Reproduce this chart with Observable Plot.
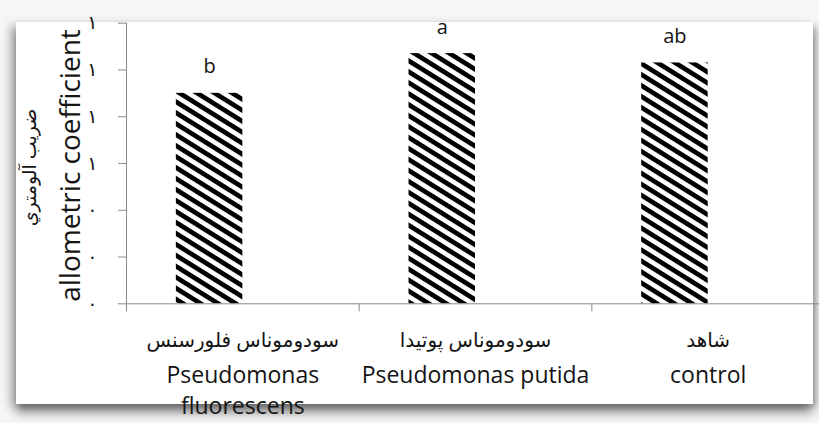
<!DOCTYPE html>
<html>
<head>
<meta charset="utf-8">
<script src="https://cdn.jsdelivr.net/npm/d3@7"></script>
<script src="https://cdn.jsdelivr.net/npm/@observablehq/plot@0.6"></script>
<style>
  html, body { margin: 0; padding: 0; }
  body { width: 819px; height: 423px; background: #f6f6f6; position: relative; overflow: hidden; }
  #panel { position: absolute; left: 16px; top: 22px; width: 797px; height: 382px; background: #fff;
           box-shadow: 0 9px 10px rgba(0,0,0,0.38), -6px 3px 9px rgba(0,0,0,0.22), 4px 3px 6px rgba(0,0,0,0.2); }
  #chart { position: absolute; left: 0; top: 0; }
  #chart svg { background: transparent; overflow: hidden; }
</style>
</head>
<body>
<div id="panel"></div>
<div id="chart"></div>
<script>
// ---- data ----
const categories = ["Pseudomonas fluorescens", "Pseudomonas putida", "control"];
const arabicNames = ["سودوموناس فلورسنس", "سودوموناس پوتيدا", "شاهد"];
const englishNames = ["Pseudomonas\nfluorescens", "Pseudomonas putida", "control"];
const values = [1.30, 1.47, 1.43];
const letters = ["b", "a", "ab"];
const yTicks = [0.4, 0.6, 0.8, 1.0, 1.2, 1.4, 1.6];
const yTickLabels = ["٠", "٠", "٠", "١", "١", "١", "١"];
const yLabel = "allometric coefficient";
const yLabelArabic = "ضريب آلومتري";

// Excel-like clustered layout: gap width 150%, two series (second empty)
const gap = 1.5, nSeries = 2;
const slot = 1 / (nSeries + gap);
const rows = categories.map((c, i) => ({
  i, cat: c, value: values[i], letter: letters[i],
  ar: arabicNames[i], en: englishNames[i],
  x1: i + slot * gap / 2, x2: i + slot * (gap / 2 + 1)
}));

const axisColor = "#898989";
const textColor = "#141414";
const font = "'Open Sans', 'DejaVu Sans', sans-serif";

const svg = Plot.plot({
  width: 819,
  height: 423,
  marginLeft: 126,
  marginRight: 0,
  marginTop: 22.7,
  marginBottom: 119.7,
  style: { fontFamily: font, color: textColor, background: "transparent" },
  x: { type: "linear", domain: [0, categories.length], range: [126, 824] },
  y: { domain: [yTicks[0], yTicks[yTicks.length - 1]] },
  marks: [
    Plot.rect(rows, { x1: "x1", x2: "x2", y1: yTicks[0], y2: "value", fill: "url(#hatch)" }),
    Plot.ruleX([0], { stroke: axisColor, strokeWidth: 1 }),
    Plot.ruleY([yTicks[0]], { stroke: axisColor, strokeWidth: 1 }),
    Plot.axisY({ ticks: yTicks, tickSize: 8, tickPadding: 21, stroke: axisColor,
                 tickFormat: (d, i) => yTickLabels[i], fontSize: 19, fill: textColor, label: null }),
    Plot.axisX({ ticks: d3.range(categories.length + 1), tickSize: 8, stroke: axisColor,
                 tickFormat: () => "", label: null }),
    Plot.text(rows, { x: d => (d.x1 + d.x2) / 2, y: "value", text: "letter", dy: -20,
                      lineAnchor: "bottom", fontSize: 20, fill: textColor }),
    Plot.text(rows, { x: d => d.i + 0.5, y: yTicks[0], text: "ar", dy: 43,
                      lineAnchor: "bottom", fontSize: 20, fill: textColor }),
    Plot.text(rows, { x: d => d.i + 0.5, y: yTicks[0], text: "en", dy: 57, lineHeight: 1.35,
                      lineAnchor: "top", fontSize: 23, fill: textColor }),
    Plot.text([yLabel], { frameAnchor: "left", textAnchor: "middle", rotate: -90, dx: -55, dy: 2,
                          fontSize: 28, fill: textColor }),
    Plot.text([yLabelArabic], { frameAnchor: "left", textAnchor: "middle", rotate: -90, dx: -97, dy: 4,
                                fontSize: 19, fill: textColor })
  ]
});

// hatch pattern
const NS = "http://www.w3.org/2000/svg";
const defs = document.createElementNS(NS, "defs");
const pat = document.createElementNS(NS, "pattern");
pat.setAttribute("id", "hatch");
pat.setAttribute("patternUnits", "userSpaceOnUse");
pat.setAttribute("width", "20");
pat.setAttribute("height", "9.3");
pat.setAttribute("patternTransform", "rotate(32)");
const bg = document.createElementNS(NS, "rect");
bg.setAttribute("width", "20"); bg.setAttribute("height", "9.3"); bg.setAttribute("fill", "#fff");
const st = document.createElementNS(NS, "rect");
st.setAttribute("width", "20"); st.setAttribute("height", "4.7"); st.setAttribute("fill", "#000");
pat.appendChild(bg); pat.appendChild(st);
defs.appendChild(pat);
svg.insertBefore(defs, svg.firstChild);

document.getElementById("chart").appendChild(svg);
</script>
</body>
</html>
